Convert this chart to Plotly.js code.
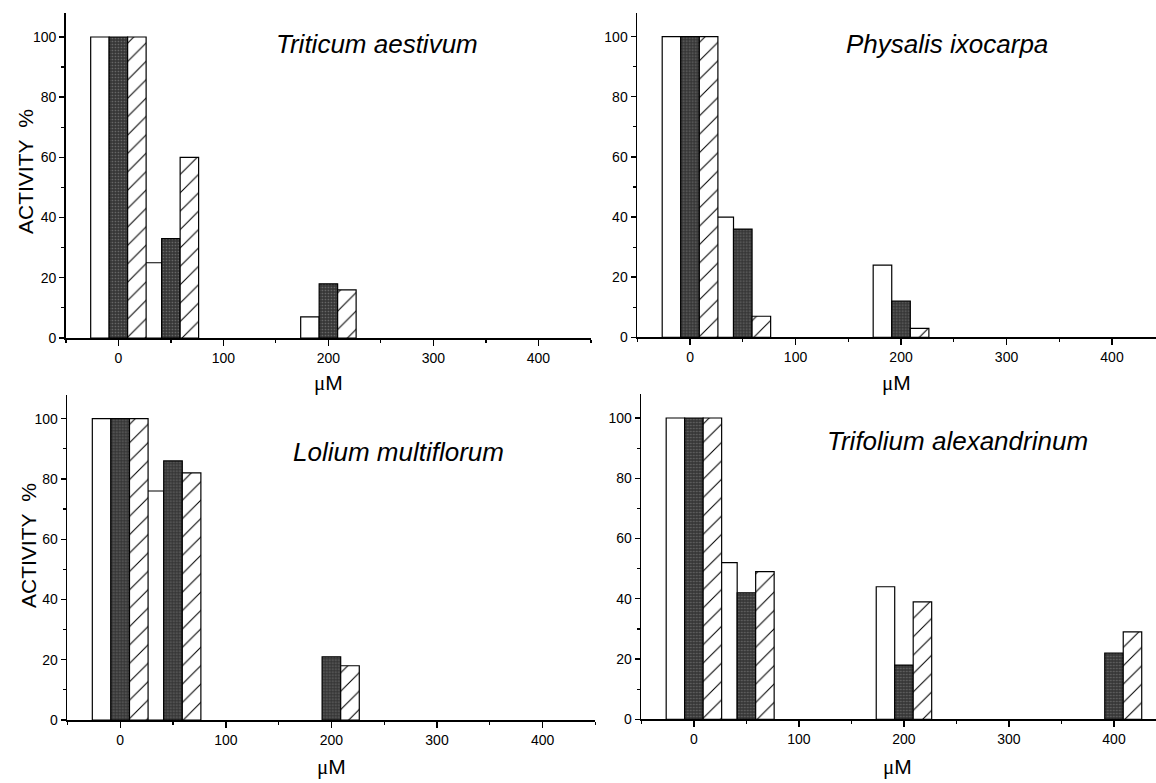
<!DOCTYPE html>
<html>
<head>
<meta charset="utf-8">
<script src="https://cdn.plot.ly/plotly-3.0.1.min.js"></script>
<style>html,body{margin:0;padding:0;background:#fff;}#chart{width:1156px;height:783px;}</style>
</head>
<body>
<div id="chart"></div>
<script>
// ---- data ----
const concentrations = [0, 50, 200];
const concentrationsTrifolium = [0, 50, 200, 400];
const species = ["Triticum aestivum", "Physalis ixocarpa", "Lolium multiflorum", "Trifolium alexandrinum"];

const triticumOpen = [100, 25, 7];
const triticumDark = [100, 33, 18];
const triticumHatched = [100, 60, 16];

const physalisOpen = [100, 40, 24];
const physalisDark = [100, 36, 12];
const physalisHatched = [100, 7, 3];

const loliumOpen = [100, 76, null];
const loliumDark = [100, 86, 21];
const loliumHatched = [100, 82, 18];

const trifoliumOpen = [100, 52, 44, null];
const trifoliumDark = [100, 42, 18, 22];
const trifoliumHatched = [100, 49, 39, 29];

const yTickVals = [0, 20, 40, 60, 80, 100];
const xTickVals = [0, 100, 200, 300, 400];

// ---- styling / layout ----
const W = 1156, H = 783;
const px = v => v / W;
const py = v => 1 - v / H;
const FONT = "Liberation Sans, Arial, sans-serif";
const barW = 17.6;
const offsets = [-26.4, -8.8, 8.8];

function makeTraces(xs, open, dark, hatched, n) {
  const xa = n === 1 ? 'x' : 'x' + n;
  const ya = n === 1 ? 'y' : 'y' + n;
  const common = {type: 'bar', x: xs, xaxis: xa, yaxis: ya, width: barW, showlegend: false, hoverinfo: 'x+y'};
  return [
    Object.assign({}, common, {y: open, offset: offsets[0],
      marker: {color: '#ffffff', line: {color: '#000', width: 1.2}}}),
    Object.assign({}, common, {y: dark, offset: offsets[1],
      marker: {color: '#3a3a3a', line: {color: '#000', width: 1.2},
        pattern: {shape: '.', bgcolor: '#363636', fgcolor: '#6e6e6e', size: 3, solidity: 0.25}}}),
    Object.assign({}, common, {y: hatched, offset: offsets[2],
      marker: {color: '#ffffff', line: {color: '#000', width: 1.2},
        pattern: {shape: '/', bgcolor: '#ffffff', fgcolor: '#000000', size: 13, solidity: 0.08}}})
  ];
}

const data = [].concat(
  makeTraces(concentrations, triticumOpen, triticumDark, triticumHatched, 1),
  makeTraces(concentrations, physalisOpen, physalisDark, physalisHatched, 2),
  makeTraces(concentrations, loliumOpen, loliumDark, loliumHatched, 3),
  makeTraces(concentrationsTrifolium, trifoliumOpen, trifoliumDark, trifoliumHatched, 4)
);

function xAxis(domain, range, anchor) {
  return {
    domain: domain, range: range, anchor: anchor, showgrid: false, zeroline: false,
    showline: true, linecolor: '#000', linewidth: 1.8,
    tickmode: 'array', tickvals: xTickVals, ticks: 'outside', ticklen: 6, tickwidth: 1.4, tickcolor: '#000',
    minor: {tickvals: [-50, 50, 150, 250, 350, 450], ticks: 'outside', ticklen: 3, tickwidth: 1.2, tickcolor: '#000'},
    tickfont: {family: FONT, size: 14, color: '#000'}, fixedrange: true
  };
}
function yAxis(domain, anchor) {
  return {
    domain: domain, range: [0, 108], anchor: anchor, showgrid: false, zeroline: false,
    showline: true, linecolor: '#000', linewidth: 1.8,
    tickmode: 'array', tickvals: yTickVals, ticks: 'outside', ticklen: 5, tickwidth: 1.4, tickcolor: '#000',
    minor: {tickvals: [10, 30, 50, 70, 90], ticks: 'outside', ticklen: 3, tickwidth: 1.2, tickcolor: '#000'},
    tickfont: {family: FONT, size: 14, color: '#000'}, fixedrange: true
  };
}

function speciesLabel(text, x, y) {
  return {text: '<i>' + text + '</i>', xref: 'paper', yref: 'paper', x: px(x), y: py(y),
    xanchor: 'center', yanchor: 'middle', showarrow: false,
    font: {family: FONT, size: 26, color: '#000'}};
}
function unitLabel(x, y) {
  return {text: "<span style='font-family:Liberation Serif'>μ</span>M", xref: 'paper', yref: 'paper',
    x: px(x), y: py(y), xanchor: 'center', yanchor: 'middle', showarrow: false,
    font: {family: FONT, size: 21, color: '#000'}};
}
function activityLabel(x, y) {
  return {text: 'ACTIVITY\u00a0\u00a0%', xref: 'paper', yref: 'paper', x: px(x), y: py(y),
    xanchor: 'center', yanchor: 'middle', showarrow: false, textangle: -90,
    font: {family: FONT, size: 21, color: '#000'}};
}

const layout = {
  width: W, height: H,
  margin: {l: 0, r: 0, t: 0, b: 0},
  paper_bgcolor: '#fff', plot_bgcolor: '#fff',
  barmode: 'overlay',
  xaxis: xAxis([px(65.9), px(590.9)], [-50, 450], 'y'),
  yaxis: yAxis([py(338), py(12.9)], 'x'),
  xaxis2: xAxis([px(637.3), 1], [-50, 441.7], 'y2'),
  yaxis2: yAxis([py(337.3), py(12.6)], 'x2'),
  xaxis3: xAxis([px(67.4), px(595.4)], [-50, 450], 'y3'),
  yaxis3: yAxis([py(720), py(394.6)], 'x3'),
  xaxis4: xAxis([px(641.4), 1], [-50, 440], 'y4'),
  yaxis4: yAxis([py(719.3), py(393.9)], 'x4'),
  annotations: [
    speciesLabel(species[0], 377, 44),
    speciesLabel(species[1], 947, 44),
    speciesLabel(species[2], 398, 452),
    speciesLabel(species[3], 957, 441),
    unitLabel(328, 383), unitLabel(896, 383),
    unitLabel(331, 767), unitLabel(897, 767),
    activityLabel(25, 172), activityLabel(28, 546)
  ]
};

Plotly.newPlot('chart', data, layout, {displayModeBar: false, staticPlot: true});
</script>
</body>
</html>
